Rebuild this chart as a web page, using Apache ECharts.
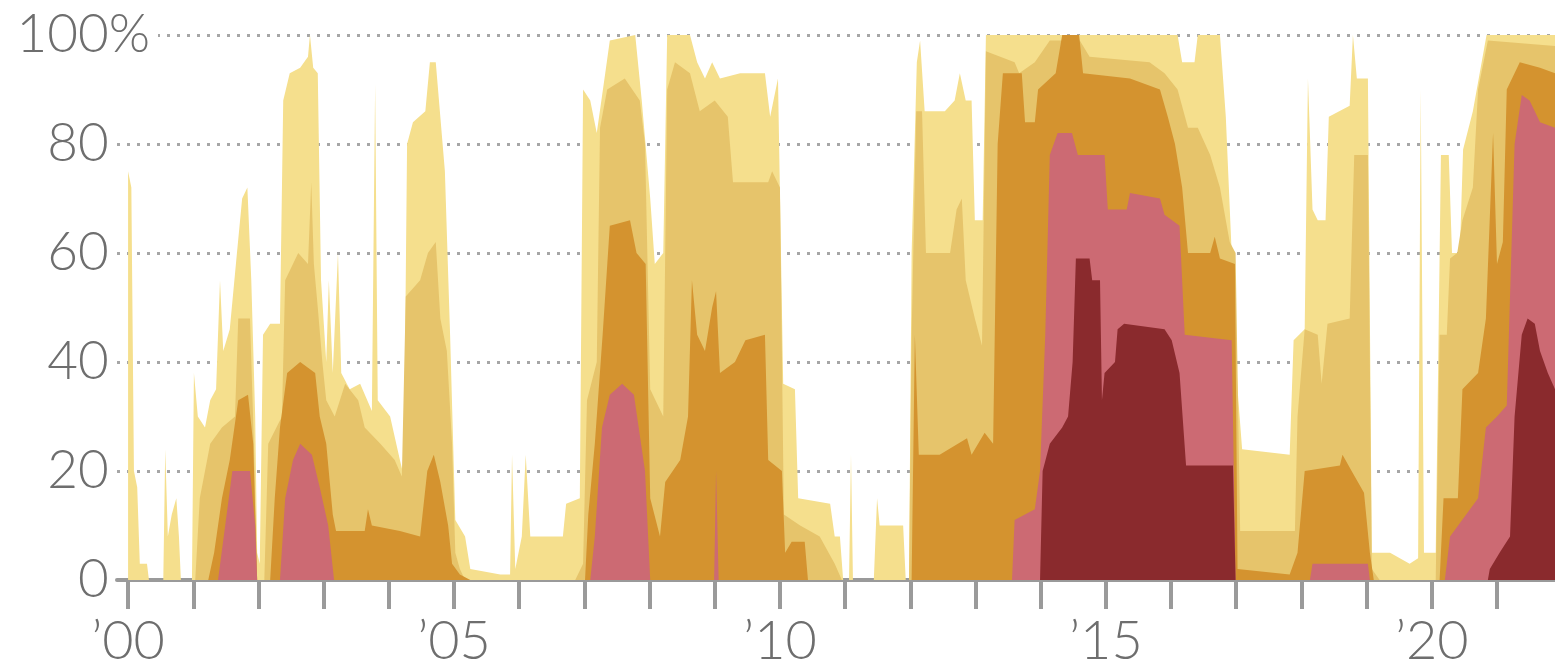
<!DOCTYPE html>
<html>
<head>
<meta charset="utf-8">
<script src="https://cdn.jsdelivr.net/npm/echarts@6/dist/echarts.min.js"></script>
<style>
html,body{margin:0;padding:0;background:#fff;}
#chart{width:1555px;height:670px;}
</style>
</head>
<body>
<div id="chart"></div>
<script>
// Share of area in drought, cumulative categories (percent), by decimal year
const yearTicks = [2000,2001,2002,2003,2004,2005,2006,2007,2008,2009,2010,2011,2012,2013,2014,2015,2016,2017,2018,2019,2020,2021];
const yearLabels = [2000,2005,2010,2015,2020];
const yTicks = [0,20,40,60,80,100];

const d0 = [[2000.00,75],[2000.05,72],[2000.09,20],[2000.14,17],[2000.18,3],[2000.29,3],[2000.32,0],[2000.54,0],[2000.57,24],[2000.61,8],[2000.67,12],[2000.74,15],[2000.78,8],[2000.81,0],[2000.98,0],[2001.01,38],[2001.07,30],[2001.18,28],[2001.26,33],[2001.35,35],[2001.41,55],[2001.46,42],[2001.56,46],[2001.67,60],[2001.75,70],[2001.83,72],[2001.89,55],[2001.95,30],[2001.98,5],[2002.02,3],[2002.07,45],[2002.18,47],[2002.33,47],[2002.38,88],[2002.48,93],[2002.64,94],[2002.76,96],[2002.79,100],[2002.84,94],[2002.91,93],[2002.96,55],[2003.04,40],[2003.08,55],[2003.14,38],[2003.22,60],[2003.27,38],[2003.40,35],[2003.56,36],[2003.74,31],[2003.79,91],[2003.83,33],[2004.02,30],[2004.17,22],[2004.23,19],[2004.28,80],[2004.37,84],[2004.56,86],[2004.63,95],[2004.72,95],[2004.79,85],[2004.86,75],[2004.94,45],[2005.02,11],[2005.17,8],[2005.25,2],[2005.71,1],[2005.86,1],[2005.89,23],[2005.94,2],[2006.04,8],[2006.10,23],[2006.17,8],[2006.40,8],[2006.67,8],[2006.72,14],[2006.93,15],[2006.98,90],[2007.09,88],[2007.19,82],[2007.32,93],[2007.39,99],[2007.78,100],[2007.88,88],[2008.01,70],[2008.08,58],[2008.21,60],[2008.27,100],[2008.62,100],[2008.73,95],[2008.85,92],[2008.96,95],[2009.08,92],[2009.39,93],[2009.77,93],[2009.85,85],[2009.97,92],[2010.05,36],[2010.23,35],[2010.28,15],[2010.77,14],[2010.84,8],[2010.92,8],[2010.97,0],[2011.06,0],[2011.09,23],[2011.12,0],[2011.44,0],[2011.49,15],[2011.53,10],[2011.89,10],[2011.93,0],[2011.98,0],[2012.02,60],[2012.10,95],[2012.15,99],[2012.22,86],[2012.53,86],[2012.68,88],[2012.76,93],[2012.85,88],[2012.94,88],[2012.99,66],[2013.11,66],[2013.16,100],[2016.10,100],[2016.17,95],[2016.36,95],[2016.41,100],[2016.75,100],[2016.84,85],[2016.93,60],[2017.02,35],[2017.09,24],[2017.82,23],[2017.88,44],[2018.05,46],[2018.10,92],[2018.17,68],[2018.25,66],[2018.37,66],[2018.42,85],[2018.74,87],[2018.79,100],[2018.85,92],[2019.02,92],[2019.08,5],[2019.36,5],[2019.66,3],[2019.79,4],[2019.83,90],[2019.88,5],[2020.06,5],[2020.14,78],[2020.26,78],[2020.31,60],[2020.43,60],[2020.48,79],[2020.63,86],[2020.84,100],[2021.89,100]];

const d1 = [[2000.00,0],[2001.03,0],[2001.10,15],[2001.26,25],[2001.44,28],[2001.64,30],[2001.69,48],[2001.87,48],[2001.93,25],[2001.98,0],[2002.09,0],[2002.15,25],[2002.36,30],[2002.41,55],[2002.61,60],[2002.76,58],[2002.81,73],[2002.85,58],[2002.91,50],[2002.98,40],[2003.04,33],[2003.17,30],[2003.33,36],[2003.53,33],[2003.63,28],[2003.87,25],[2004.09,22],[2004.20,19],[2004.26,52],[2004.48,55],[2004.60,60],[2004.72,62],[2004.79,48],[2004.89,42],[2004.97,25],[2005.02,5],[2005.09,2],[2005.17,0],[2006.86,0],[2006.98,3],[2007.04,33],[2007.19,40],[2007.24,83],[2007.35,90],[2007.62,92],[2007.85,88],[2007.93,80],[2008.01,35],[2008.21,30],[2008.27,90],[2008.39,95],[2008.62,93],[2008.77,86],[2009.00,88],[2009.20,85],[2009.28,73],[2009.82,73],[2009.88,75],[2010.00,72],[2010.06,12],[2010.31,10],[2010.61,8],[2010.84,3],[2010.95,0],[2011.98,0],[2012.02,45],[2012.09,86],[2012.18,86],[2012.24,60],[2012.61,60],[2012.71,68],[2012.79,70],[2012.85,55],[2012.99,48],[2013.10,43],[2013.16,97],[2013.60,95],[2013.67,93],[2013.91,95],[2014.14,99],[2014.60,99],[2014.75,96],[2015.67,95],[2015.90,93],[2016.10,90],[2016.26,83],[2016.41,83],[2016.60,78],[2016.75,72],[2016.90,62],[2016.99,60],[2017.06,9],[2017.90,9],[2017.94,30],[2018.05,46],[2018.25,45],[2018.31,36],[2018.40,47],[2018.74,48],[2018.81,78],[2019.02,78],[2019.08,2],[2019.20,0],[2020.06,0],[2020.12,45],[2020.23,45],[2020.28,59],[2020.39,60],[2020.47,66],[2020.63,72],[2020.71,90],[2020.86,99],[2021.89,98]];

const d2 = [[2000.00,0],[2001.23,0],[2001.32,5],[2001.44,15],[2001.56,22],[2001.69,33],[2001.84,34],[2001.92,25],[2001.98,0],[2002.18,0],[2002.25,15],[2002.33,28],[2002.44,38],[2002.64,40],[2002.87,38],[2002.94,30],[2003.04,25],[2003.14,12],[2003.19,9],[2003.63,9],[2003.68,13],[2003.74,10],[2004.17,9],[2004.48,8],[2004.59,20],[2004.69,23],[2004.79,18],[2004.91,10],[2004.97,3],[2005.09,1],[2005.25,0],[2007.01,0],[2007.06,12],[2007.16,25],[2007.28,45],[2007.39,65],[2007.70,66],[2007.80,60],[2007.94,58],[2008.01,15],[2008.16,8],[2008.24,18],[2008.47,22],[2008.59,30],[2008.65,55],[2008.73,45],[2008.85,42],[2008.96,50],[2009.02,53],[2009.08,38],[2009.31,40],[2009.47,44],[2009.77,45],[2009.82,22],[2010.03,20],[2010.08,5],[2010.18,7],[2010.38,7],[2010.43,0],[2012.02,0],[2012.07,45],[2012.13,23],[2012.45,23],[2012.87,26],[2012.94,23],[2013.14,27],[2013.27,25],[2013.34,80],[2013.42,93],[2013.71,93],[2013.76,84],[2013.91,84],[2013.96,90],[2014.23,93],[2014.33,100],[2014.59,100],[2014.65,93],[2015.37,92],[2015.83,90],[2015.95,85],[2016.06,80],[2016.17,72],[2016.26,60],[2016.60,60],[2016.67,63],[2016.75,59],[2016.98,58],[2017.02,2],[2017.82,1],[2017.94,5],[2018.05,20],[2018.59,21],[2018.63,23],[2018.77,20],[2018.96,16],[2019.05,5],[2019.11,0],[2020.12,0],[2020.18,15],[2020.40,15],[2020.47,35],[2020.71,38],[2020.83,48],[2020.94,82],[2021.00,58],[2021.09,62],[2021.15,90],[2021.35,95],[2021.66,94],[2021.89,93]];

const d3 = [[2000.00,0],[2001.38,0],[2001.49,10],[2001.60,20],[2001.87,20],[2001.95,10],[2001.98,0],[2002.33,0],[2002.41,15],[2002.53,22],[2002.64,25],[2002.82,23],[2002.94,17],[2003.07,10],[2003.16,0],[2007.09,0],[2007.16,8],[2007.27,28],[2007.39,34],[2007.58,36],[2007.76,34],[2007.93,20],[2008.01,0],[2008.99,0],[2009.02,20],[2009.06,0],[2013.56,0],[2013.60,11],[2013.91,13],[2013.99,20],[2014.07,45],[2014.14,78],[2014.26,82],[2014.48,82],[2014.57,78],[2014.98,78],[2015.03,68],[2015.32,68],[2015.37,71],[2015.83,70],[2015.90,67],[2016.13,65],[2016.21,45],[2016.93,44],[2016.99,0],[2018.13,0],[2018.17,3],[2019.02,3],[2019.05,0],[2020.20,0],[2020.28,8],[2020.71,15],[2020.83,28],[2021.00,30],[2021.15,32],[2021.27,80],[2021.38,89],[2021.50,88],[2021.66,84],[2021.89,83]];

const d4 = [[2000.00,0],[2013.99,0],[2014.03,20],[2014.14,25],[2014.33,28],[2014.42,30],[2014.49,40],[2014.54,59],[2014.75,59],[2014.79,55],[2014.91,55],[2014.94,33],[2014.98,38],[2015.14,40],[2015.18,46],[2015.28,47],[2015.90,46],[2016.01,44],[2016.13,38],[2016.23,21],[2016.95,21],[2016.99,0],[2020.86,0],[2020.89,2],[2021.04,5],[2021.20,8],[2021.27,30],[2021.38,45],[2021.47,48],[2021.58,47],[2021.66,42],[2021.78,38],[2021.89,35]];

const seriesNames = ['D0-D4','D1-D4','D2-D4','D3-D4','D4'];
const seriesData = [d0, d1, d2, d3, d4];
const seriesColors = ['#f5df8d','#e6c46b','#d4932f','#cc6a73','#8a2a2d'];

const FONT = 'Lato, "Open Sans", sans-serif';
const TXT = '#6e6e6e';
const FS = 53;

const chart = echarts.init(document.getElementById('chart'), null, {renderer:'canvas'});
chart.setOption({
  animation: false,
  backgroundColor: '#fff',
  grid: {left: 117, right: 0, top: 35, bottom: 90, containLabel: false},
  xAxis: {
    type: 'value',
    min: 1999.83,
    max: 2021.89,
    axisLine: {show: true, lineStyle: {color: '#9a9a9a', width: 4}},
    axisTick: {show: true, customValues: yearTicks, length: 29, lineStyle: {color: '#9a9a9a', width: 4}},
    axisLabel: {
      customValues: yearLabels,
      margin: 35,
      fontSize: FS + 1, fontFamily: FONT, fontWeight: 300, color: TXT,
      formatter: v => '\u2019' + String(Math.round(v) % 100).padStart(2, '0')
    },
    splitLine: {show: false}
  },
  yAxis: {
    type: 'value',
    min: 0, max: 100, interval: 20,
    axisLine: {show: false},
    axisTick: {show: false},
    axisLabel: {
      margin: -41,
      formatter: v => v === 100 ? '{a|100}{b|%}{c|}' : '{n|' + v + '}{h|%}{g|}',
      rich: {
        a: {fontSize: FS, fontFamily: FONT, fontWeight: 300, color: TXT, backgroundColor: '#fff'},
        b: {fontSize: FS, fontFamily: FONT, fontWeight: 300, color: TXT, backgroundColor: '#fff'},
        c: {width: 8, height: 40, backgroundColor: '#fff'},
        n: {fontSize: FS, fontFamily: FONT, fontWeight: 300, color: TXT},
        h: {fontSize: FS, fontFamily: FONT, fontWeight: 300, color: 'rgba(0,0,0,0)'},
        g: {width: 8, height: 40}
      }
    },
    splitLine: {show: true, lineStyle: {color: '#a6a6a6', width: 3, type: [3, 7]}}
  },
  series: seriesData.map((data, i) => ({
    name: seriesNames[i],
    type: 'line',
    data: data,
    symbol: 'none',
    silent: true,
    sampling: 'none',
    lineStyle: {width: 0},
    areaStyle: {color: seriesColors[i], opacity: 1},
    z: 2 + i
  }))
});
</script>
</body>
</html>
